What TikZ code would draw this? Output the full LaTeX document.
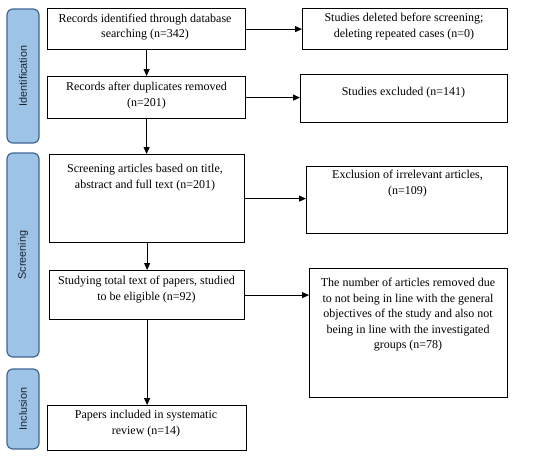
\documentclass[tikz,border=0pt]{standalone}
\usepackage{fontspec}
\setmainfont{Liberation Serif}
\setsansfont{Liberation Sans}
\usetikzlibrary{arrows.meta,calc}
\definecolor{phasefill}{HTML}{9DC3E6}
\definecolor{phasedraw}{HTML}{41668F}
\definecolor{phasetext}{HTML}{1A2430}
\tikzset{
  flowbox/.style={draw=black, line width=1.2pt, anchor=north west, inner sep=0pt},
  flowtxt/.style={align=center, inner sep=0pt, font=\fontsize{12}{15.5}\selectfont},
  phase/.style={draw=phasedraw, fill=phasefill, line width=1.2pt, rounded corners=6pt,
    rotate=90, inner sep=0pt, text=phasetext, font=\sffamily\fontsize{10.8}{13}\selectfont},
  flowarrow/.style={line width=1pt, -{Triangle[length=7pt,width=6pt]}}
}
\begin{document}
\begin{tikzpicture}[x=1pt,y=-1pt]
\useasboundingbox (0,0) rectangle (535,463);

% phase labels
\node[phase, minimum width=134pt, minimum height=32pt] (pid) at (23,76) {Identification};
\node[phase, minimum width=204pt, minimum height=32pt] (psc) at (23,255) {Screening};
\node[phase, minimum width=80pt, minimum height=32pt] (pin) at (23,409) {Inclusion};

% left column boxes
\node[flowbox, minimum width=198pt, minimum height=41pt] (b1) at (47,8) {};
\node[flowbox, minimum width=198pt, minimum height=42pt] (b2) at (47,76) {};
\node[flowbox, minimum width=195pt, minimum height=88pt] (b3) at (49,154) {};
\node[flowbox, minimum width=195pt, minimum height=49pt] (b4) at (49,270) {};
\node[flowbox, minimum width=199pt, minimum height=45pt] (b5) at (47,405) {};

% right column boxes
\node[flowbox, minimum width=205pt, minimum height=41pt] (r1) at (302,8) {};
\node[flowbox, minimum width=207pt, minimum height=48pt] (r2) at (300,74) {};
\node[flowbox, minimum width=201pt, minimum height=67pt] (r3) at (306,166) {};
\node[flowbox, minimum width=198pt, minimum height=129pt] (r4) at (309,268) {};

% texts
\node[flowtxt] (t1) at (145,27) {Records identified through database\\searching (n=342)};
\node[flowtxt] (t2) at (146.5,95.5) {Records after duplicates removed\\(n=201)};
\node[flowtxt] (t3) at (145,177.5) {Screening articles based on title,\\abstract and full text (n=201)};
\node[flowtxt] (t4) at (146.5,289.5) {Studying total text of papers, studied\\to be eligible (n=92)};
\node[flowtxt] (t5) at (146,423.5) {Papers included in systematic\\review (n=14)};
\node[flowtxt] (s1) at (404,26.5) {Studies deleted before screening;\\deleting repeated cases (n=0)};
\node[flowtxt] (s2) at (403.5,93) {Studies excluded (n=141)};
\node[flowtxt] (s3) at (407.5,183.5) {Exclusion of irrelevant articles,\\(n=109)};
\node[flowtxt] (s4) at (408,315) {The number of articles removed due\\to not being in line with the general\\objectives of the study and also not\\being in line with the investigated\\groups (n=78)};

% vertical arrows
\draw[flowarrow] (b1.south) -- (b1.south |- b2.north);
\draw[flowarrow] (b2.south) -- (b2.south |- b3.north);
\draw[flowarrow] (b3.south) -- (b3.south |- b4.north);
\draw[flowarrow] (b4.south) -- (b4.south |- b5.north);

% horizontal arrows
\draw[flowarrow] (b1.east) -- (b1.east -| r1.west);
\draw[flowarrow] (b2.east) -- (b2.east -| r2.west);
\draw[flowarrow] (b3.east) -- (b3.east -| r3.west);
\draw[flowarrow] (b4.east) -- (b4.east -| r4.west);
\end{tikzpicture}
\end{document}
